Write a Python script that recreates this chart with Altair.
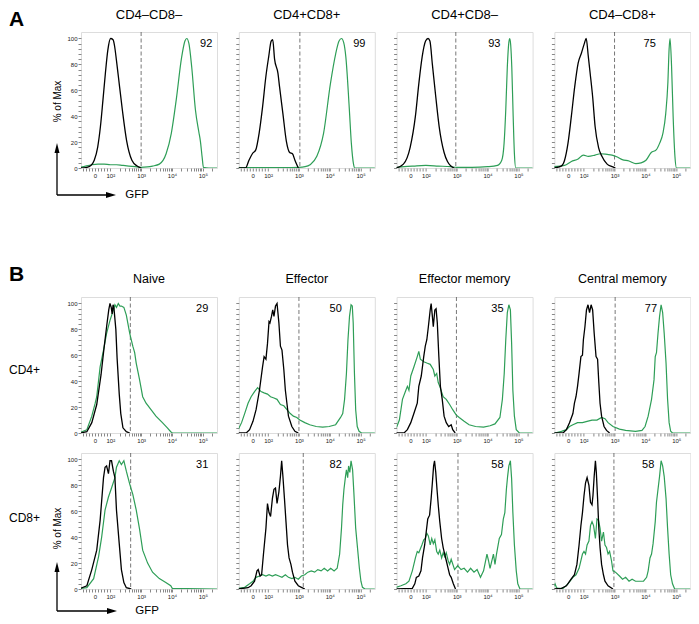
import altair as alt
import pandas as pd

FONT = "Liberation Sans"
GREEN = "#2e9e57"
BLACK = "#000000"

X_DOMAIN = [1.05, 5.46]
Y_DOMAIN = [0, 105]
X_MAJOR = [1.5, 2, 3, 4, 5]
X_MAJOR_LABELS = ["0", "10²", "10³", "10⁴", "10⁵"]
X_MINOR = [1.1, 1.2, 1.3, 1.4, 1.6, 1.7, 1.8, 1.9,
           2.301, 2.477, 2.602, 2.699, 2.778, 2.845, 2.903, 2.954,
           3.301, 3.477, 3.602, 3.699, 3.778, 3.845, 3.903, 3.954,
           4.301, 4.477, 4.602, 4.699, 4.778, 4.845, 4.903, 4.954,
           5.301]
Y_TICKS = [0, 4, 8, 12, 16, 20, 24, 28, 32, 36, 40, 44, 48, 52, 56, 60, 64, 68, 72, 76, 80, 84, 88, 92, 96, 100]
Y_LABELED = [0, 20, 40, 60, 80, 100]

A_TITLES = ["CD4–CD8–", "CD4+CD8+", "CD4+CD8–", "CD4–CD8+"]
A_PCT = ["92", "99", "93", "75"]
A_PCT_U = [5.11, 4.96, 4.22, 4.14]
A_GATE = [3.0, 3.03, 2.97, 3.0]

B_TITLES = ["Naive", "Effector", "Effector memory", "Central memory"]
B_ROWS = ["CD4+", "CD8+"]
B1_PCT = ["29", "50", "35", "77"]
B1_PCT_U = [4.98, 4.19, 4.32, 4.18]
B1_GATE = [2.65, 3.0, 2.99, 3.02]
B2_PCT = ["31", "82", "58", "58"]
B2_PCT_U = [4.98, 4.19, 4.32, 4.09]
B2_GATE = [2.66, 3.14, 3.04, 2.98]
PCT_Y = 95.5

# ---- Panel A curves (u = display position: 0 -> 1.5, 10^k -> k) ----
A1_BLACK_U = [1.03,1.2,1.37,1.48,1.59,1.68,1.76,1.84,1.92,2.01,2.09,2.14,2.2,2.26,2.39,2.53,2.7,2.87,3.0]
A1_BLACK_Y = [0,0.3,2,6,16,32,52,73,91,100,99,94,83,71,45,21,6,1.5,0]
A1_GREEN_U = [1.03,1.2,1.4,1.6,1.8,2.0,2.2,2.4,2.6,2.8,3.0,3.2,3.37,3.59,3.81,3.98,4.14,4.31,4.42,4.48,4.55,4.64,4.76,4.87,4.92,4.98,5.02,5.2,5.47]
A1_GREEN_Y = [0.5,1.5,2.5,3,3,2.5,2.5,2,1.5,1,0.5,0.8,1.5,3,11,27,53,85,98,100,96,78,45,28,21,8,0.5,0,0]

A2_BLACK_U = [1.03,1.27,1.38,1.49,1.60,1.71,1.82,1.93,2.02,2.10,2.15,2.21,2.32,2.37,2.48,2.59,2.70,2.79,2.87,2.98]
A2_BLACK_Y = [0,0,6,11,14,27,47,71,86,98,99,84,73,63,42,21,12,11,6,0]
A2_GREEN_U = [1.03,1.5,2.0,2.5,3.0,3.2,3.36,3.58,3.80,4.02,4.19,4.30,4.38,4.45,4.52,4.63,4.70,4.77,4.81,5.47]
A2_GREEN_Y = [0.3,0.3,0.3,0.3,0.5,1,2.5,9,27,65,88,98,100,97,86,47,19,3,0,0]

A3_BLACK_U = [1.03,1.27,1.49,1.66,1.77,1.88,1.99,2.07,2.13,2.21,2.32,2.43,2.59,2.70,2.81,2.92]
A3_BLACK_Y = [0,3,16,40,65,86,98,100,98,80,55,32,12,5,1.5,0]
A3_GREEN_U = [1.03,1.3,1.6,2.0,2.4,2.8,3.0,3.5,4.0,4.32,4.46,4.535,4.59,4.64,4.69,4.72,4.75,4.785,4.83,4.87,4.915,5.47]
A3_GREEN_Y = [0.3,1,1.5,2,1.5,1,0.5,0.5,1,2,6,19,45,78,97,100,95,78,40,11,0,0]

A4_BLACK_U = [1.03,1.27,1.38,1.49,1.60,1.71,1.82,1.93,2.02,2.08,2.15,2.21,2.29,2.37,2.48,2.59,2.76,2.92,3.03]
A4_BLACK_Y = [0,1.5,6,19,40,63,81,89,96,100,86,73,55,32,16,9,3,1,0]
A4_GREEN_U = [1.03,1.38,1.60,1.82,1.99,2.15,2.37,2.54,2.76,2.92,3.09,3.25,3.47,3.69,3.86,4.02,4.19,4.35,4.46,4.57,4.66,4.73,4.77,4.80,4.85,4.90,4.96,5.01,5.47]
A4_GREEN_Y = [1,2,5,7,10,9,10,11,10.5,10,8.5,6.5,5.4,3.4,4,6,12,14,19,27,42,66,92,100,78,40,8.5,0,0]

# ---- Panel B, CD4+ row ----
B1N_BLACK_U = [1.03,1.24,1.40,1.56,1.70,1.78,1.88,1.95,1.99,2.03,2.06,2.09,2.12,2.18,2.22,2.29,2.34,2.41,2.52,2.63]
B1N_BLACK_Y = [0,1,8,22,45,62,82,95,100,97,92,99,96,80,58,30,15,4,1,0]
B1N_GREEN_U = [1.03,1.24,1.40,1.51,1.56,1.67,1.78,1.88,1.99,2.10,2.15,2.20,2.26,2.31,2.36,2.44,2.52,2.63,2.73,2.79,2.84,2.95,3.05,3.16,3.32,3.48,3.69,3.85,3.96,4.01,5.47]
B1N_GREEN_Y = [0.5,2.5,13,23,28,51,64,77,87,95,99,97,100,98,98,97,91,77,67,62,54,41,28,23,18,13,8,4,1,0,0]

B1E_BLACK_U = [1.03,1.29,1.40,1.51,1.61,1.72,1.82,1.87,1.93,1.98,2.03,2.06,2.11,2.15,2.19,2.24,2.29,2.35,2.40,2.45,2.51,2.56,2.61,2.66,2.77,2.87,2.98]
B1E_BLACK_Y = [0,0,2.6,9,18,33,51,59,57,69,86,85,90,95,90,98,100,85,67,64,49,33,23,13,5,1.3,0]
B1E_GREEN_U = [1.03,1.06,1.14,1.24,1.35,1.45,1.56,1.66,1.77,1.87,1.98,2.08,2.19,2.29,2.40,2.51,2.61,2.72,2.82,2.93,3.03,3.19,3.35,3.56,3.77,3.98,4.19,4.35,4.42,4.48,4.54,4.59,4.64,4.69,4.73,4.76,4.80,4.84,4.89,4.95,5.03,5.47]
B1E_GREEN_Y = [3,4,8,15,23,28,32,35,32,31,30,28,27,26,22,21,18,15,13,12,10,8,6.4,5,4.6,5,6.4,12,15,26,46,72,90,99,98,85,46,18,5,1.3,0,0]

B1EM_BLACK_U = [1.03,1.29,1.40,1.51,1.61,1.72,1.77,1.85,1.93,1.98,2.03,2.08,2.14,2.17,2.21,2.24,2.29,2.33,2.37,2.42,2.47,2.53,2.59,2.66,2.74,2.82,2.87,2.95]
B1EM_BLACK_Y = [0,0,2.6,8,15,23,36,44,59,67,72,82,95,100,90,82,95,96,85,59,36,26,13,8,5,6.4,2.6,0]
B1EM_GREEN_U = [1.03,1.06,1.14,1.24,1.35,1.40,1.45,1.51,1.61,1.72,1.77,1.82,1.93,2.03,2.14,2.24,2.29,2.35,2.40,2.45,2.56,2.66,2.77,2.87,2.98,3.08,3.24,3.40,3.61,3.87,4.08,4.24,4.40,4.48,4.54,4.59,4.64,4.69,4.74,4.78,4.82,4.87,4.93,5.03,5.47]
B1EM_GREEN_Y = [4,5,10,26,33,36,33,44,51,59,63,57,55,54,53,49,44,46,39,36,28,26,22,18,14,12,9,6.4,5,4.6,5.6,7,12,26,46,72,93,99,95,69,33,13,2.6,0,0]

B1CM_BLACK_U = [1.03,1.33,1.44,1.54,1.65,1.70,1.75,1.80,1.85,1.91,1.96,1.99,2.04,2.09,2.14,2.19,2.24,2.29,2.34,2.40,2.45,2.49,2.53,2.58,2.66,2.74,2.84]
B1CM_BLACK_Y = [0,0,2.6,8,15,23,28,36,46,59,60,72,82,95,99,93,99,95,77,59,57,39,23,13,5,2,0]
B1CM_GREEN_U = [1.03,1.07,1.28,1.44,1.54,1.65,1.80,1.96,2.11,2.27,2.43,2.58,2.69,2.79,2.95,3.16,3.36,3.68,3.89,3.99,4.09,4.20,4.28,4.32,4.36,4.41,4.46,4.51,4.56,4.61,4.67,4.72,4.77,4.82,4.88,5.47]
B1CM_GREEN_Y = [0,0,1.3,2.6,5,6.4,8,8,9,10,10,12,11,8,5,3,2,1.3,2,5,13,26,41,59,62,77,90,99,93,77,54,26,8,1.3,0,0]

# ---- Panel B, CD8+ row ----
B2N_BLACK_U = [1.03,1.24,1.40,1.56,1.67,1.78,1.83,1.88,1.94,1.99,2.04,2.10,2.15,2.20,2.29,2.36,2.44,2.52,2.68]
B2N_BLACK_Y = [0.5,2.5,15,30,53,86,94,95,89,99,99,91,86,61,35,15,5,1,0]
B2N_GREEN_U = [1.03,1.24,1.46,1.62,1.72,1.83,1.94,2.04,2.15,2.20,2.29,2.36,2.44,2.52,2.63,2.73,2.84,2.95,3.05,3.21,3.37,3.59,3.80,3.96,4.01,5.47]
B2N_GREEN_Y = [0.5,1,8,25,40,61,71,78,86,94,99,96,99,91,81,73,61,46,30,20,13,8,5,2.5,0.5,0]

B2E_BLACK_U = [1.03,1.35,1.45,1.56,1.64,1.68,1.74,1.79,1.85,1.93,1.98,2.03,2.08,2.14,2.19,2.24,2.29,2.35,2.40,2.44,2.48,2.53,2.58,2.63,2.68,2.74,2.79,2.87,2.98,3.08,3.19]
B2E_BLACK_Y = [0,1,2.5,6,14,15,10,11,27,47,66,59,56,70,77,78,66,75,87,99,87,70,52,34,24,19,13,6,2.5,1.3,0]
B2E_GREEN_U = [1.03,1.24,1.40,1.51,1.61,1.72,1.82,1.93,2.03,2.14,2.24,2.35,2.45,2.56,2.66,2.77,2.87,2.98,3.08,3.19,3.29,3.40,3.51,3.61,3.72,3.82,3.93,4.03,4.14,4.24,4.32,4.38,4.42,4.46,4.51,4.54,4.58,4.61,4.65,4.69,4.74,4.78,4.84,4.91,4.96,5.01,5.06,5.14,5.47]
B2E_GREEN_Y = [0.5,1.3,4,6,9,10,11,10,11,10,11,10,9,11,9,8,9,7.6,10,11,13,14,13,15,14,16,14,16,14,16,27,47,65,77,87,92,86,95,90,99,92,75,47,29,16,6,1.3,0,0]

B2EM_BLACK_U = [1.03,1.56,1.64,1.69,1.77,1.84,1.89,1.96,2.01,2.06,2.12,2.17,2.21,2.25,2.28,2.32,2.36,2.40,2.45,2.51,2.56,2.61,2.66,2.72,2.77,2.82,2.89,2.96]
B2EM_BLACK_Y = [0,0.5,4,9,10,14,24,34,44,54,57,70,82,95,99,90,77,65,52,39,32,27,22,16,11,9,4,0]
B2EM_GREEN_U = [1.03,1.19,1.35,1.45,1.56,1.66,1.72,1.77,1.87,1.93,1.98,2.03,2.08,2.14,2.19,2.24,2.29,2.35,2.40,2.45,2.51,2.56,2.61,2.66,2.72,2.77,2.82,2.93,3.03,3.14,3.24,3.35,3.45,3.56,3.66,3.77,3.87,3.98,4.03,4.08,4.19,4.24,4.29,4.38,4.45,4.51,4.56,4.61,4.65,4.69,4.74,4.78,4.82,4.87,4.93,4.98,5.05,5.47]
B2EM_GREEN_Y = [1.3,2.5,4,6,14,24,29,28,34,38,39,43,41,34,39,35,38,29,27,30,24,28,25,28,22,19,23,15,18,15,16,13,16,13,15,9,14,27,22,16,27,19,27,39,42,54,59,77,87,95,99,85,59,34,14,4,0,0]

B2CM_BLACK_U = [1.03,1.28,1.44,1.59,1.70,1.78,1.85,1.91,1.96,2.01,2.06,2.11,2.17,2.22,2.27,2.30,2.34,2.38,2.41,2.45,2.49,2.53,2.58,2.64,2.69,2.79,2.95]
B2CM_BLACK_Y = [0,0.5,2.5,7.6,11,19,34,49,59,72,82,86,80,67,65,72,87,99,90,70,47,32,19,11,6,2.5,0]
B2CM_GREEN_U = [1.03,1.07,1.12,1.18,1.33,1.49,1.65,1.75,1.85,1.96,2.01,2.06,2.11,2.17,2.22,2.27,2.32,2.38,2.43,2.48,2.53,2.58,2.64,2.69,2.74,2.79,2.84,2.90,2.95,3.03,3.16,3.26,3.36,3.47,3.57,3.68,3.78,3.94,4.04,4.09,4.15,4.20,4.25,4.32,4.36,4.41,4.46,4.51,4.56,4.61,4.67,4.72,4.77,4.82,4.88,4.95,5.47]
B2CM_GREEN_Y = [2,4,1,0.5,0.5,4,9,11,16,27,29,27,34,37,49,52,49,39,54,53,47,37,44,34,32,27,29,22,14,13,10,7.6,9,6,7.6,6,6,6,9,14,24,27,35,52,67,77,87,99,95,87,70,47,27,11,4,0,0]

A_CURVES = [(A1_BLACK_U, A1_BLACK_Y, A1_GREEN_U, A1_GREEN_Y),
            (A2_BLACK_U, A2_BLACK_Y, A2_GREEN_U, A2_GREEN_Y),
            (A3_BLACK_U, A3_BLACK_Y, A3_GREEN_U, A3_GREEN_Y),
            (A4_BLACK_U, A4_BLACK_Y, A4_GREEN_U, A4_GREEN_Y)]
B1_CURVES = [(B1N_BLACK_U, B1N_BLACK_Y, B1N_GREEN_U, B1N_GREEN_Y),
             (B1E_BLACK_U, B1E_BLACK_Y, B1E_GREEN_U, B1E_GREEN_Y),
             (B1EM_BLACK_U, B1EM_BLACK_Y, B1EM_GREEN_U, B1EM_GREEN_Y),
             (B1CM_BLACK_U, B1CM_BLACK_Y, B1CM_GREEN_U, B1CM_GREEN_Y)]
B2_CURVES = [(B2N_BLACK_U, B2N_BLACK_Y, B2N_GREEN_U, B2N_GREEN_Y),
             (B2E_BLACK_U, B2E_BLACK_Y, B2E_GREEN_U, B2E_GREEN_Y),
             (B2EM_BLACK_U, B2EM_BLACK_Y, B2EM_GREEN_U, B2EM_GREEN_Y),
             (B2CM_BLACK_U, B2CM_BLACK_Y, B2CM_GREEN_U, B2CM_GREEN_Y)]

# ---- layout (pixels) ----
PW = 136
PH = 136
SPACER_H = 89
ROW_GAP = 20
LEFT_TXT = -72

X_EXPR = "''"
for v, lab in reversed(list(zip(X_MAJOR, X_MAJOR_LABELS))):
    X_EXPR = f"datum.value == {v} ? '{lab}' : ({X_EXPR})"
Y_EXPR = "indexof(" + str(Y_LABELED) + ", datum.value) >= 0 ? datum.label : ''"


def curve_df(u, y):
    if len(u) != len(y):
        raise ValueError("length mismatch")
    return pd.DataFrame({"u": u, "y": y})


ONE = pd.DataFrame({"k": [0]})


def txt(text, x, y, size, weight="normal", align="left", baseline="alphabetic"):
    return alt.Chart(ONE).mark_text(text=text, font=FONT, fontSize=size, fontWeight=weight,
                                    align=align, baseline=baseline, color="black").encode(
        x=alt.value(x), y=alt.value(y))


def rule(x1, y1, x2, y2):
    return alt.Chart(ONE).mark_rule(color="black", strokeWidth=1.3).encode(
        x=alt.value(x1), x2=alt.value(x2), y=alt.value(y1), y2=alt.value(y2))


def head(x, y, shape):
    return alt.Chart(ONE).mark_point(shape=shape, filled=True, size=100, color="black",
                                     opacity=1, strokeWidth=0).encode(x=alt.value(x), y=alt.value(y))


def gfp_arrows(ax, ay, vtip, htip, gx):
    return [rule(ax, ay, ax, vtip + 8), head(ax, vtip + 5, "M0,-1L0.5,1L-0.5,1Z"),
            rule(ax, ay, htip - 8, ay), head(htip - 5, ay, "M1,0L-1,-0.6L-1,0.6Z"),
            txt("GFP", gx, ay, 11.5, align="center", baseline="middle")]


def panel(curves, gate, pct, pct_u, interp, first_col, title=None, title_size=12,
          title_offset=10, ytitle=None, ytitle_y=68, extras=()):
    bu, by, gu, gy = curves
    xs = alt.Scale(domain=X_DOMAIN, nice=False, zero=False)
    ys = alt.Scale(domain=Y_DOMAIN, nice=False, zero=False)
    xax = alt.Axis(values=X_MAJOR + X_MINOR, labelExpr=X_EXPR, labelOverlap=False, grid=False,
                   domain=False, labelFontSize=6, labelPadding=1, tickSize=3, labelColor="#222222")
    yargs = dict(values=Y_TICKS, labelExpr=Y_EXPR, labels=first_col, labelOverlap=False, grid=False,
                 domain=False, labelFontSize=6, labelPadding=1, tickSize=3, labelColor="#222222")
    if ytitle:
        yargs.update(titleX=-24, titleY=ytitle_y, titleAngle=270, titleAlign="center",
                     titleBaseline="middle", titleFontSize=10, titleFontWeight="normal",
                     titleFont=FONT, titleColor="black")
    X = alt.X("u:Q", scale=xs, axis=xax, title=None)
    Y = alt.Y("y:Q", scale=ys, axis=alt.Axis(**yargs), title=ytitle if ytitle else None)
    layers = [
        alt.Chart(pd.DataFrame({"u": [gate]})).mark_rule(color="#555555", strokeWidth=0.8,
                                                         strokeDash=[4, 2.5]).encode(x=X),
        alt.Chart(curve_df(gu, gy)).mark_line(color=GREEN, strokeWidth=1.2, interpolate=interp,
                                              clip=True).encode(x=X, y=Y),
        alt.Chart(curve_df(bu, by)).mark_line(color=BLACK, strokeWidth=1.3, interpolate=interp,
                                              clip=True).encode(x=X, y=Y),
        alt.Chart(pd.DataFrame({"u": [pct_u], "y": [PCT_Y], "t": [pct]})).mark_text(
            font=FONT, fontSize=11, align="center", baseline="middle", color="black").encode(
            x=X, y=Y, text="t:N"),
    ]
    layers += list(extras)
    props = dict(width=PW, height=PH)
    if title:
        props["title"] = alt.TitleParams(text=title, fontSize=title_size, offset=title_offset,
                                         anchor="middle", frame="group", font=FONT,
                                         fontWeight="normal", color="black")
    return alt.layer(*layers).properties(**props)


cells = []
for i in range(4):
    extras = []
    if i == 0:
        extras = gfp_arrows(-24, 163, 111, 35, 56)
    cells.append(panel(A_CURVES[i], A_GATE[i], A_PCT[i], A_PCT_U[i], "monotone", i == 0,
                       title=A_TITLES[i], title_size=13, title_offset=10,
                       ytitle="% of Max" if i == 0 else None, ytitle_y=69, extras=extras))

# spacer row: carries the section letters so that they do not push panel titles
for i in range(4):
    layers = [alt.Chart(pd.DataFrame({"u": [0.0], "y": [0.0]})).mark_point(opacity=0).encode(
        x=alt.X("u:Q", axis=None), y=alt.Y("y:Q", axis=None))]
    if i == 0:
        layers.append(txt("A", LEFT_TXT, -6 - (PH + ROW_GAP), 21, weight="bold"))
        layers.append(txt("B", LEFT_TXT, SPACER_H + ROW_GAP - 16.5, 21, weight="bold"))
    cells.append(alt.layer(*layers).properties(
        width=PW, height=SPACER_H, view=alt.ViewBackground(strokeOpacity=0)))

for i in range(4):
    extras = []
    if i == 0:
        extras = [txt(B_ROWS[0], LEFT_TXT, 72.7, 12, baseline="middle")]
    cells.append(panel(B1_CURVES[i], B1_GATE[i], B1_PCT[i], B1_PCT_U[i], "linear", i == 0,
                       title=B_TITLES[i], title_size=12.5, title_offset=11, extras=extras))

for i in range(4):
    extras = []
    if i == 0:
        extras = [txt(B_ROWS[1], LEFT_TXT, 65, 12, baseline="middle")] + gfp_arrows(-24, 158, 109, 36, 66)
    cells.append(panel(B2_CURVES[i], B2_GATE[i], B2_PCT[i], B2_PCT_U[i], "linear", i == 0,
                       ytitle="% of Max" if i == 0 else None, ytitle_y=75, extras=extras))

chart = alt.concat(*cells, columns=4, spacing={"row": ROW_GAP, "column": 21.8}, bounds="flush",
                   padding=0).configure_view(
    stroke="#7a7a7a", strokeWidth=1
).configure_axis(
    grid=False, domain=False, tickColor="#333333", tickWidth=0.8,
    labelFont=FONT, labelColor="#222222", titleFont=FONT, titleFontWeight="normal",
    titleColor="black"
).configure(background="white")

chart.save("out.html", embed_options={"renderer": "svg", "actions": False})
